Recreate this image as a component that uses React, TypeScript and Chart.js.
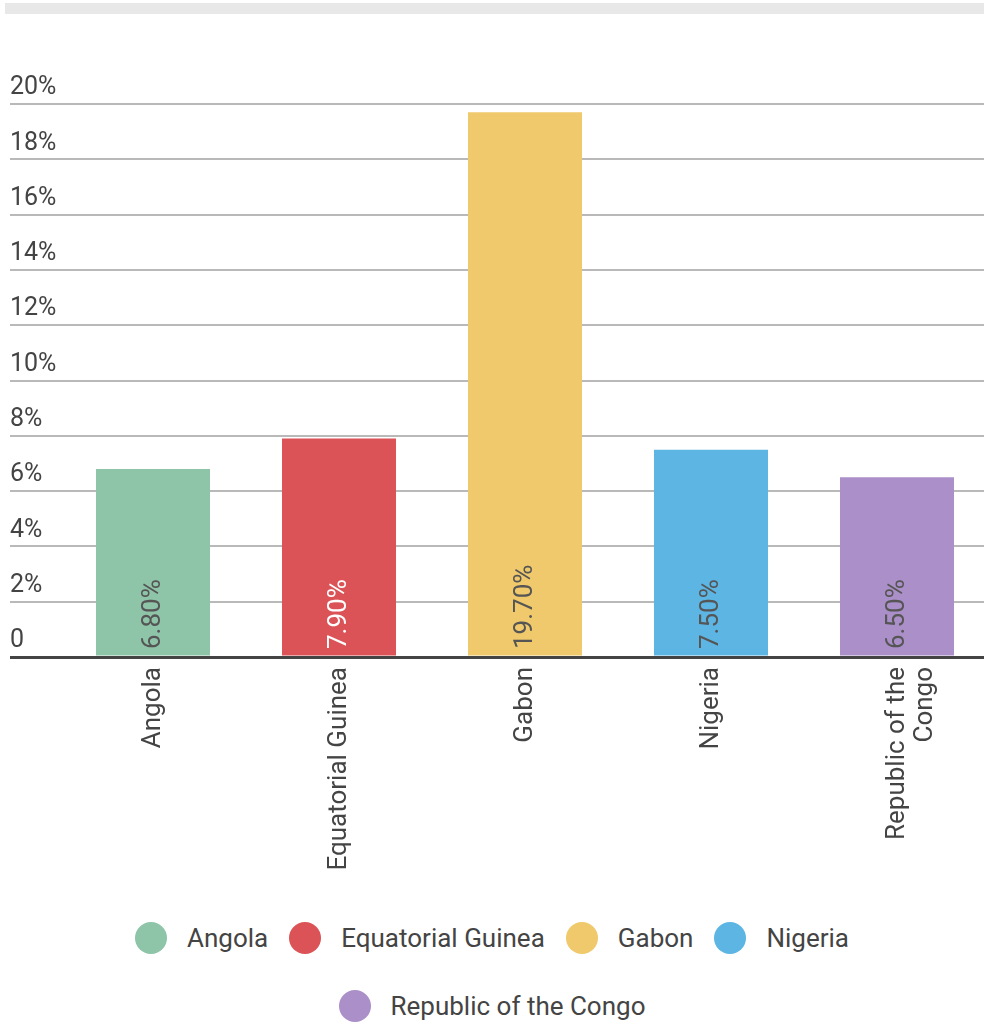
import React, { useEffect, useRef } from "react";
import { Chart, registerables } from "chart.js";

Chart.register(...registerables);

const categories = ["Angola", "Equatorial Guinea", "Gabon", "Nigeria", "Republic of the Congo"];
const axisLabels: (string | string[])[] = ["Angola", "Equatorial Guinea", "Gabon", "Nigeria", ["Republic of the", "Congo"]];
const values = [6.8, 7.9, 19.7, 7.5, 6.5];
const barColors = ["#8ec4a8", "#db5356", "#efc96b", "#5db5e4", "#aa8fc8"];
const valueLabelColors = ["#555555", "#ffffff", "#555555", "#555555", "#555555"];
const yMin = 0;
const yMax = 20;
const yStep = 2;

const FONT = "Roboto";
const TEXT = "#444444";
const GRID = "#b9b9b9";
const AXIS = "#444444";

const valueLabelsPlugin = {
  id: "valueLabels",
  afterDatasetsDraw(chart: any) {
    const ctx = chart.ctx;
    const meta = chart.getDatasetMeta(0);
    const base = chart.scales.y.getPixelForValue(0);
    meta.data.forEach((bar: any, i: number) => {
      ctx.save();
      ctx.translate(bar.x, base - 8);
      ctx.rotate(-Math.PI / 2);
      ctx.font = `26px ${FONT}`;
      ctx.fillStyle = valueLabelColors[i];
      ctx.textAlign = "left";
      ctx.textBaseline = "middle";
      ctx.fillText(values[i].toFixed(2) + "%", 0, 0);
      ctx.restore();
    });
  },
};

export default function App() {
  const canvasRef = useRef<HTMLCanvasElement | null>(null);

  useEffect(() => {
    document.body.style.margin = "0";
    const canvas = canvasRef.current;
    if (!canvas) return;
    const isZero = (c: any) => c.tick && c.tick.value === 0;
    const chart = new Chart(canvas, {
      type: "bar",
      data: {
        labels: axisLabels as any,
        datasets: [
          {
            label: "Share",
            data: values,
            backgroundColor: barColors,
            borderWidth: 0,
            barPercentage: 0.613,
            categoryPercentage: 1,
          },
        ],
      },
      options: {
        responsive: false,
        animation: false,
        layout: { padding: { top: 104, left: 10, right: 2, bottom: 0 } },
        plugins: {
          legend: { display: false },
          tooltip: { enabled: false },
        },
        scales: {
          x: {
            grid: { display: false },
            border: { display: true, color: AXIS, width: 3 },
            ticks: {
              autoSkip: false,
              minRotation: 90,
              maxRotation: 90,
              padding: 2,
              color: TEXT,
              font: { family: FONT, size: 26, lineHeight: 1.08 },
            },
            afterFit(scale: any) {
              scale.height = 240;
            },
          },
          y: {
            min: yMin,
            max: yMax,
            border: { display: false },
            grid: {
              color: (c: any) => (isZero(c) ? AXIS : GRID),
              lineWidth: (c: any) => (isZero(c) ? 3 : 2),
              drawTicks: true,
              tickLength: 50,
              tickColor: (c: any) => (isZero(c) ? AXIS : GRID),
              tickWidth: (c: any) => (isZero(c) ? 3 : 2),
            },
            ticks: {
              stepSize: yStep,
              crossAlign: "far",
              labelOffset: -16,
              padding: 0,
              color: TEXT,
              font: { family: FONT, size: 25 },
              callback: (v: any) => (Number(v) === 0 ? "0" : `${v}%`),
            },
            afterFit(scale: any) {
              scale.width = 50;
            },
          },
        },
      },
      plugins: [valueLabelsPlugin],
    });
    return () => chart.destroy();
  }, []);

  return (
    <div style={{ position: "relative", width: 984, overflow: "hidden", fontFamily: FONT }}>
      <div
        style={{
          position: "absolute",
          top: 3,
          left: 5,
          width: 979,
          height: 11,
          background: "#e8e8e8",
        }}
      />
      <canvas ref={canvasRef} width={992} height={897} style={{ display: "block" }} />
      <div
        style={{
          display: "flex",
          flexWrap: "wrap",
          justifyContent: "center",
          columnGap: 21,
          rowGap: 36,
          marginTop: 25,
          width: 984,
        }}
      >
        {categories.map((c, i) => (
          <div key={c} style={{ display: "flex", alignItems: "center", height: 32 }}>
            <span
              style={{
                display: "inline-block",
                width: 32,
                height: 32,
                borderRadius: "50%",
                background: barColors[i],
                marginRight: 20,
              }}
            />
            <span style={{ fontSize: 26, lineHeight: "32px", color: TEXT, whiteSpace: "nowrap" }}>{c}</span>
          </div>
        ))}
      </div>
    </div>
  );
}
